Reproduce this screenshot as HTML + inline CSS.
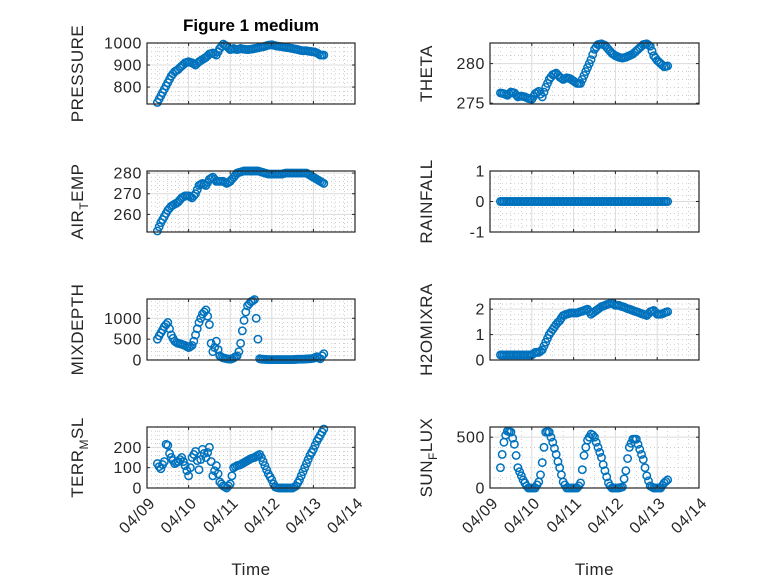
<!DOCTYPE html>
<html><head><meta charset="utf-8">
<style>
html,body{margin:0;padding:0;background:#fff;}
svg{display:block;font-family:"Liberation Sans",sans-serif;}
.tk{font-size:16px;fill:#262626;letter-spacing:0.6px;}
.yl{font-size:17px;fill:#262626;letter-spacing:0.5px;}
</style></head>
<body>
<svg id="fig" width="778" height="583" viewBox="0 0 778 583" xmlns="http://www.w3.org/2000/svg">
<rect width="778" height="583" fill="#fff"/>
<text x="251" y="31" text-anchor="middle" font-weight="bold" font-size="17" fill="#000">Figure 1 medium</text>
</svg>
<script>
const hours = [6,7,8,9,10,11,12,13,14,15,16,17,18,19,20,21,22,23,24,25,26,27,28,29,30,31,32,33,34,35,36,37,38,39,40,41,42,43,44,45,46,47,48,49,50,51,52,53,54,55,56,57,58,59,60,61,62,63,64,65,66,67,68,69,70,71,72,73,74,75,76,77,78,79,80,81,82,83,84,85,86,87,88,89,90,91,92,93,94,95,96,97,98,99,100,101,102];
const xTickLabels = ["04/09","04/10","04/11","04/12","04/13","04/14"];
const pressure = [730,745,760,775,790,805,820,835,850,860,870,875,880,888,895,902,910,912,915,912,910,905,900,908,915,920,925,930,935,942,950,952,955,950,945,960,975,985,995,990,985,978,970,972,975,972,970,972,975,973,972,971,970,971,972,973,975,976,978,980,982,983,985,988,990,991,992,990,988,986,985,984,983,982,980,979,978,976,975,973,972,970,968,966,965,965,965,963,962,961,960,958,955,950,945,945,945];
const theta = [276.3,276.25,276.2,276.1,276,276.2,276.4,276.35,276.3,276.05,275.8,275.85,275.9,275.85,275.8,275.7,275.6,275.55,275.5,275.85,276.2,276.35,276.5,276.15,275.8,276.4,277,277.5,278,278.3,278.6,278.7,278.8,278.55,278.3,278.15,278,278.1,278.2,278.15,278.1,277.95,277.8,277.65,277.5,277.5,277.5,278,278.5,279,279.5,280,280.5,281.15,281.8,282.1,282.4,282.45,282.5,282.4,282.3,282.05,281.8,281.55,281.3,281.15,281,280.9,280.8,280.75,280.7,280.75,280.8,280.9,281,281.1,281.2,281.4,281.6,281.8,282,282.2,282.4,282.45,282.5,282.35,282.2,281.6,281,280.7,280.4,280.2,280,279.8,279.6,279.65,279.7];
const airTemp = [252,254,256,257.5,259,260.5,262,263,264,264.5,265,265.5,266,267,268,268.5,269,269,269,268.5,268,269,270,272,274,274.5,275,274.5,274,275.5,277,277.5,278,277,276,276,276,276,276,275.5,275,275.5,276,277,278,279,280,280.3,280.5,280.8,281,281,281,281,281,281,281,281,281,280.8,280.5,280.3,280,279.8,279.5,279.5,279.5,279.5,279.5,279.5,279.5,279.5,279.5,279.8,280,280,280,280,280,280,280,280,280,280,280,280,280,279.5,279,278.5,278,277.5,277,276.5,276,275.5,275];
const rainfall = [0,0,0,0,0,0,0,0,0,0,0,0,0,0,0,0,0,0,0,0,0,0,0,0,0,0,0,0,0,0,0,0,0,0,0,0,0,0,0,0,0,0,0,0,0,0,0,0,0,0,0,0,0,0,0,0,0,0,0,0,0,0,0,0,0,0,0,0,0,0,0,0,0,0,0,0,0,0,0,0,0,0,0,0,0,0,0,0,0,0,0,0,0,0,0,0,0];
const mixDepth = [500,580,650,720,800,850,900,750,600,520,450,420,400,390,380,360,350,320,300,320,350,450,600,750,900,1000,1100,1150,1200,1050,850,400,200,300,450,250,100,70,50,40,30,25,20,30,50,80,100,200,400,700,950,1150,1300,1350,1400,1420,1450,1000,500,30,20,18,15,12,10,10,10,10,10,10,10,10,10,10,10,10,10,10,10,12,15,18,20,20,20,22,25,28,30,35,40,60,80,50,30,100,150];
const h2oMix = [0.2,0.2,0.2,0.2,0.2,0.2,0.2,0.2,0.2,0.2,0.2,0.2,0.2,0.2,0.2,0.2,0.2,0.2,0.2,0.25,0.3,0.3,0.3,0.35,0.4,0.55,0.7,0.85,1.0,1.1,1.2,1.3,1.4,1.48,1.55,1.65,1.75,1.78,1.8,1.82,1.85,1.85,1.85,1.85,1.85,1.88,1.9,1.92,1.95,1.98,2.0,1.9,1.8,1.85,1.9,1.95,2.0,2.05,2.1,2.12,2.15,2.18,2.2,2.22,2.25,2.2,2.15,2.15,2.15,2.12,2.1,2.08,2.05,2.02,2.0,1.98,1.95,1.92,1.9,1.88,1.85,1.82,1.8,1.78,1.75,1.82,1.9,1.92,1.95,1.88,1.8,1.8,1.8,1.82,1.85,1.88,1.9];
const terrMsl = [120,105,95,115,130,215,210,170,150,135,120,125,130,140,150,130,110,85,60,100,150,165,180,135,90,140,190,170,150,175,200,130,60,85,110,70,30,20,10,5,0,10,20,60,100,105,110,112,115,120,125,130,135,140,145,148,150,155,160,165,150,130,110,90,70,55,40,20,5,2,0,0,0,0,0,0,0,0,0,5,10,25,40,60,80,100,120,140,160,175,190,210,230,245,260,275,290];
const sunFlux = [200,330,450,520,560,555,550,490,430,320,200,160,120,80,50,20,0,0,0,0,0,30,60,130,250,400,550,555,550,500,450,390,330,260,200,130,60,30,0,0,0,0,0,0,0,20,50,180,320,400,470,500,530,520,500,450,400,350,300,230,170,110,50,20,0,0,0,0,0,5,10,90,170,290,400,440,480,480,480,430,380,330,280,200,120,70,20,10,0,0,0,0,0,25,50,65,80];

const NS='http://www.w3.org/2000/svg';
const svg=document.getElementById('fig');
function mk(tag,attrs,parent){const e=document.createElementNS(NS,tag);for(const k in attrs)e.setAttribute(k,attrs[k]);(parent||svg).appendChild(e);return e;}

const panels=[
 {key:'pressure',col:0,row:0,data:pressure,ylim:[723,1000],ticks:[800,900,1000],minor:20,label:['PRESSURE']},
 {key:'theta',col:1,row:0,data:theta,ylim:[274.9,282.6],ticks:[275,280],minor:1,label:['THETA']},
 {key:'air-temp',col:0,row:1,data:airTemp,ylim:[251.5,281],ticks:[260,270,280],minor:2,label:['AIR','T','EMP']},
 {key:'rainfall',col:1,row:1,data:rainfall,ylim:[-1,1],ticks:[-1,0,1],minor:0.2,label:['RAINFALL']},
 {key:'mixdepth',col:0,row:2,data:mixDepth,ylim:[0,1463],ticks:[0,500,1000],minor:100,label:['MIXDEPTH']},
 {key:'h2omixra',col:1,row:2,data:h2oMix,ylim:[0,2.4],ticks:[0,1,2],minor:0.2,label:['H2OMIXRA']},
 {key:'terr-msl',col:0,row:3,data:terrMsl,ylim:[0,300],ticks:[0,100,200],minor:20,label:['TERR','M','SL']},
 {key:'sun-flux',col:1,row:3,data:sunFlux,ylim:[0,600],ticks:[0,500],minor:100,label:['SUN','F','LUX']}
];
const colX=[[147,355],[490,699]];
const rowTop=[43,171,299,427];
const H=61;

panels.forEach(p=>{
 const x0=colX[p.col][0],x1=colX[p.col][1],y0=rowTop[p.row],y1=y0+H;
 const g=mk('g',{});
 
 
 const xs=h=>x0+(h/24)/5*(x1-x0);
 const ys=v=>y1-(v-p.ylim[0])/(p.ylim[1]-p.ylim[0])*(y1-y0);
 mk('rect',{x:x0,y:y0,width:x1-x0,height:H,fill:'#fff'},g);
 for(let d=0;d<5;d++)for(let q=1;q<4;q++){const x=xs((d+q/4)*24);mk('line',{x1:x,x2:x,y1:y0,y2:y1,stroke:'#b0b0b0','stroke-width':0.6,'stroke-dasharray':'1,3'},g);}
 const s0=Math.ceil(p.ylim[0]/p.minor-1e-9);
 for(let k=s0;k*p.minor<=p.ylim[1]+1e-9;k++){const v=k*p.minor;if(p.ticks.some(t=>Math.abs(t-v)<1e-9))continue;const y=ys(v);mk('line',{x1:x0,x2:x1,y1:y,y2:y,stroke:'#b0b0b0','stroke-width':0.6,'stroke-dasharray':'1,3'},g);}
 xTickLabels.forEach((l,i)=>{const x=xs(i*24);mk('line',{x1:x,x2:x,y1:y0,y2:y1,stroke:'#dcdcdc','stroke-width':1},g);});
 p.ticks.forEach(t=>{const y=ys(t);mk('line',{x1:x0,x2:x1,y1:y,y2:y,stroke:'#dcdcdc','stroke-width':1},g);});
 const dg=mk('g',{},g);
 
 
 const n=Math.min(p.data.length,hours.length);
 for(let i=0;i<n;i++){
  const v=p.data[i];
  const c=mk('circle',{cx:xs(hours[i]).toFixed(2),cy:ys(v).toFixed(2),r:3.7,fill:'none',stroke:'#0072BD','stroke-width':1.5},dg);
  
  
 }
 mk('rect',{x:x0,y:y0,width:x1-x0,height:H,fill:'none',stroke:'#262626','stroke-width':1.2},g);
 xTickLabels.forEach((l,i)=>{const x=xs(i*24);mk('line',{x1:x,x2:x,y1:y1,y2:y1-3,stroke:'#262626'},g);mk('line',{x1:x,x2:x,y1:y0,y2:y0+3,stroke:'#262626'},g);});
 p.ticks.forEach(t=>{const y=ys(t);mk('line',{x1:x0,x2:x0+3,y1:y,y2:y,stroke:'#262626'},g);mk('line',{x1:x1,x2:x1-3,y1:y,y2:y,stroke:'#262626'},g);
  const tl=mk('text',{x:x0-5,y:y+5.5,'text-anchor':'end',class:'tk'},g);tl.textContent=String(t);
  
  
 });
 const lx=x0-(p.col===0?64:58), ly=(y0+y1)/2;
 const t=mk('text',{x:lx,y:ly,'text-anchor':'middle',class:'yl',transform:`rotate(-90 ${lx} ${ly})`},g);
 
 
 if(p.label.length===1){t.textContent=p.label[0];}
 else{const a=mk('tspan',{},t);a.textContent=p.label[0];const b=mk('tspan',{dy:5,'font-size':12},t);b.textContent=p.label[1];const c=mk('tspan',{dy:-5},t);c.textContent=p.label[2];}
 if(p.row===3){
  xTickLabels.forEach((l,i)=>{const x=xs(i*24)+9,y=y1+16;
   const tl=mk('text',{x:x,y:y,'text-anchor':'end',class:'tk',transform:`rotate(-45 ${x} ${y})`},g);tl.textContent=l;
   
   
  });
  const xl=mk('text',{x:(x0+x1)/2,y:575,'text-anchor':'middle',class:'yl'},g);xl.textContent='Time';
  
  
 }
});
</script>
</body></html>
